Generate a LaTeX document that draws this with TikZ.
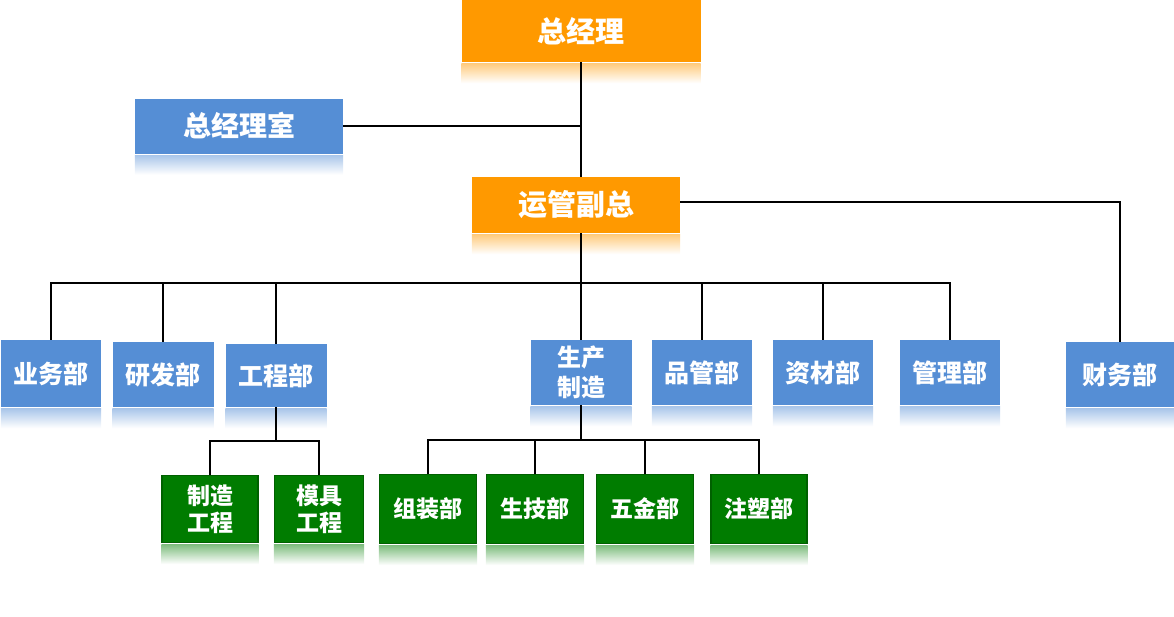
\documentclass[tikz,border=0pt]{standalone}
\usepackage{fontspec}
\setmainfont{Noto Sans CJK SC}
\definecolor{orgorange}{RGB}{255,153,0}
\definecolor{orgblue}{RGB}{85,142,213}
\definecolor{orggreen}{RGB}{0,124,0}
\definecolor{orggreend}{RGB}{0,96,0}
\tikzset{
    mynodeo/.style = {rectangle, fill=orgorange, text=white, align=center, inner sep=0pt, font=\bfseries\fontsize{29}{33}\selectfont},
    mynodeb/.style = {rectangle, fill=orgblue, text=white, align=center, inner sep=0pt, minimum width=100pt, minimum height=65pt, font=\bfseries\fontsize{25}{30}\selectfont},
    mynodeg/.style = {rectangle, fill=orggreen, draw=orggreend, line width=1.2pt, text=white, align=center, inner sep=0pt, minimum width=96pt, minimum height=69pt, font=\bfseries\fontsize{23}{27}\selectfont},
    edgen/.style = {line width=2pt, black},
    reflect/.style = {top color=#1!50!white, bottom color=white}
}

\begin{document}
\begin{tikzpicture}[x=1pt, y=-1pt]
  \useasboundingbox (0,0) rectangle (1174,616);
  % top
  \node[mynodeo, minimum width=239pt, minimum height=62pt] (zjl) at (581,31) {总经理};
  \node[mynodeb, minimum width=208pt, minimum height=55pt, font=\bfseries\fontsize{28}{32}\selectfont] (zjls) at (239,126) {总经理室};
  \node[mynodeo, minimum width=208pt, minimum height=56pt] (ygfz) at (576,205) {运管副总};
  % departments
  \node[mynodeb, minimum height=67pt] (ywb) at (51,373.5) {业务部};
  \node[mynodeb, minimum width=101pt] (yfb) at (163,374.5) {研发部};
  \node[mynodeb, minimum width=101pt, minimum height=63pt] (gcb) at (276,375.5) {工程部};
  \node[mynodeb, minimum width=101pt, font=\bfseries\fontsize{24}{30}\selectfont] (sczz) at (581,372.5) {生产\\制造};
  \node[mynodeb] (pgb) at (702,372.5) {品管部};
  \node[mynodeb] (zcb) at (823,372.5) {资材部};
  \node[mynodeb] (glb) at (950,372.5) {管理部};
  \node[mynodeb, minimum width=108pt] (cwb) at (1120,374.5) {财务部};
  % sections
  \node[mynodeg, minimum height=67pt] (zzgc) at (210,509) {制造\\工程};
  \node[mynodeg, minimum width=89pt, minimum height=67pt] (mjgc) at (319,509) {模具\\工程};
  \node[mynodeg, minimum width=97pt] (zzb) at (428,509) {组装部};
  \node[mynodeg, minimum width=97pt] (sjb) at (535,509) {生技部};
  \node[mynodeg, minimum width=97pt] (wjb) at (645,509) {五金部};
  \node[mynodeg] (zsb) at (759,509) {注塑部};

  % reflections
  \foreach \n/\c in {zjl/orgorange, zjls/orgblue, ygfz/orgorange, ywb/orgblue, yfb/orgblue, gcb/orgblue,
                     sczz/orgblue, pgb/orgblue, zcb/orgblue, glb/orgblue, cwb/orgblue,
                     zzgc/orggreen, mjgc/orggreen, zzb/orggreen, sjb/orggreen, wjb/orggreen, zsb/orggreen}
    \shade[reflect=\c] ([yshift=-1.5pt]\n.south west) rectangle ([yshift=-21pt]\n.south east);

  \coordinate (bus) at (581,283);
  \coordinate (busg) at (276,441);
  \coordinate (buss) at (581,440);

  \draw[edgen] (zjl.south) -- (zjl.south |- ygfz.north);
  \draw[edgen] (zjls.east) -- (zjls.east -| zjl.south);
  \draw[edgen] ([yshift=3pt]ygfz.east) -| (cwb.north);
  \draw[edgen] (zjl.south |- ygfz.south) -- (sczz.north);
  \draw[edgen] (ywb.north) |- (glb.north |- bus) -- (glb.north);
  \foreach \n in {yfb,gcb,pgb,zcb}
    \draw[edgen] (\n.north) -- (\n.north |- bus);

  \draw[edgen] (gcb.south) -- (busg);
  \draw[edgen] (zzgc.north) |- (mjgc.north |- busg) -- (mjgc.north);

  \draw[edgen] (sczz.south) -- (buss);
  \draw[edgen] (zzb.north) |- (zsb.north |- buss) -- (zsb.north);
  \foreach \n in {sjb,wjb}
    \draw[edgen] (\n.north) -- (\n.north |- buss);
\end{tikzpicture}
\end{document}
